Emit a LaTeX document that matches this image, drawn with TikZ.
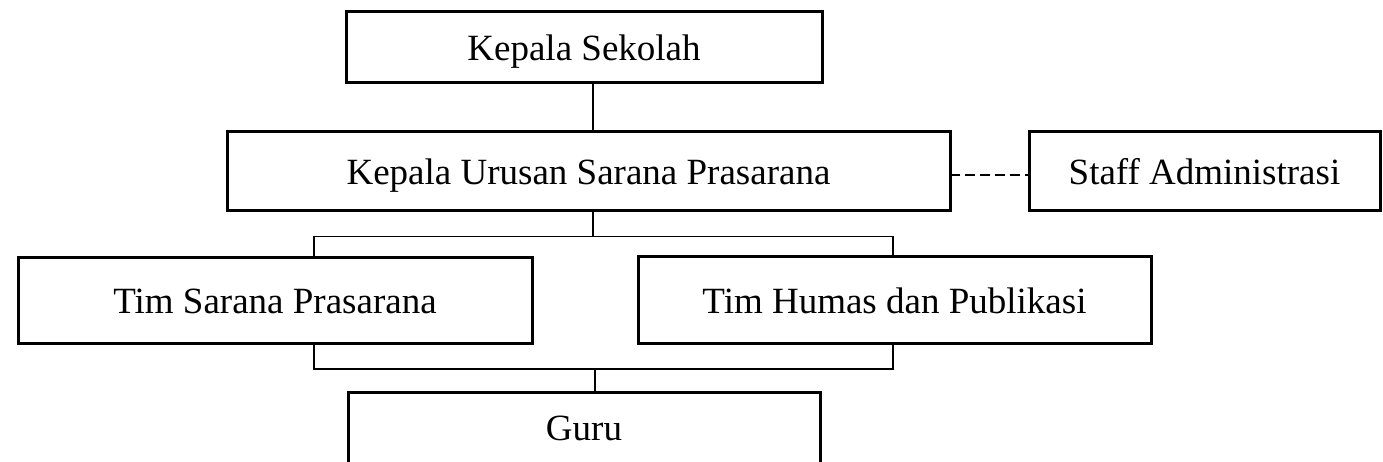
\documentclass[tikz,border=0pt]{standalone}
\usepackage{fontspec}
\setmainfont{Liberation Serif}
\begin{document}
\begin{tikzpicture}[x=1pt,y=-1pt,
  box/.style={draw, line width=3pt, inner sep=0pt, outer sep=0pt, text height=26pt, text depth=0pt, font=\fontsize{37}{44}\selectfont},
  conn/.style={line width=1.3pt},
  dashconn/.style={line width=1.3pt, dash pattern=on 10pt off 5pt}]
\useasboundingbox (0,0) rectangle (1383,462);
\node[box, minimum width=476pt, minimum height=71pt] (ks) at (584,47.5) {Kepala Sekolah};
\node[box, minimum width=723pt, minimum height=79pt] (kusp) at (588.5,171.5) {Kepala Urusan Sarana Prasarana};
\node[box, minimum width=351pt, minimum height=79pt] (staff) at (1204.5,171.5) {Staff Administrasi};
\node[box, minimum width=514pt, minimum height=85pt] (tsp) at (275,300.5) {Tim Sarana Prasarana};
\node[box, minimum width=513pt, minimum height=86pt] (thp) at (894.5,300) {Tim Humas dan Publikasi};
\node[box, text depth=8pt, minimum width=472pt, minimum height=78pt] (guru) at (584,431) {Guru};
\coordinate (mx) at (593,0);
\coordinate (gx) at (595,0);
\coordinate (lx) at (314,0);
\coordinate (rx) at (893,0);
\coordinate (dy) at (0,175);
\coordinate (tb) at (0,236.5);
\coordinate (bb) at (0,369);
\draw[conn] (ks.south -| mx) -- (kusp.north -| mx);
\draw[dashconn] (kusp.east |- dy) -- (staff.west |- dy);
\draw[conn] (kusp.south -| mx) -- (tb -| mx);
\draw[conn] (tsp.north -| lx) -- (tb -| lx) -- (tb -| rx) -- (thp.north -| rx);
\draw[conn] (tsp.south -| lx) -- (bb -| lx) -- (bb -| rx) -- (thp.south -| rx);
\draw[conn] (bb -| gx) -- (guru.north -| gx);
\end{tikzpicture}
\end{document}
